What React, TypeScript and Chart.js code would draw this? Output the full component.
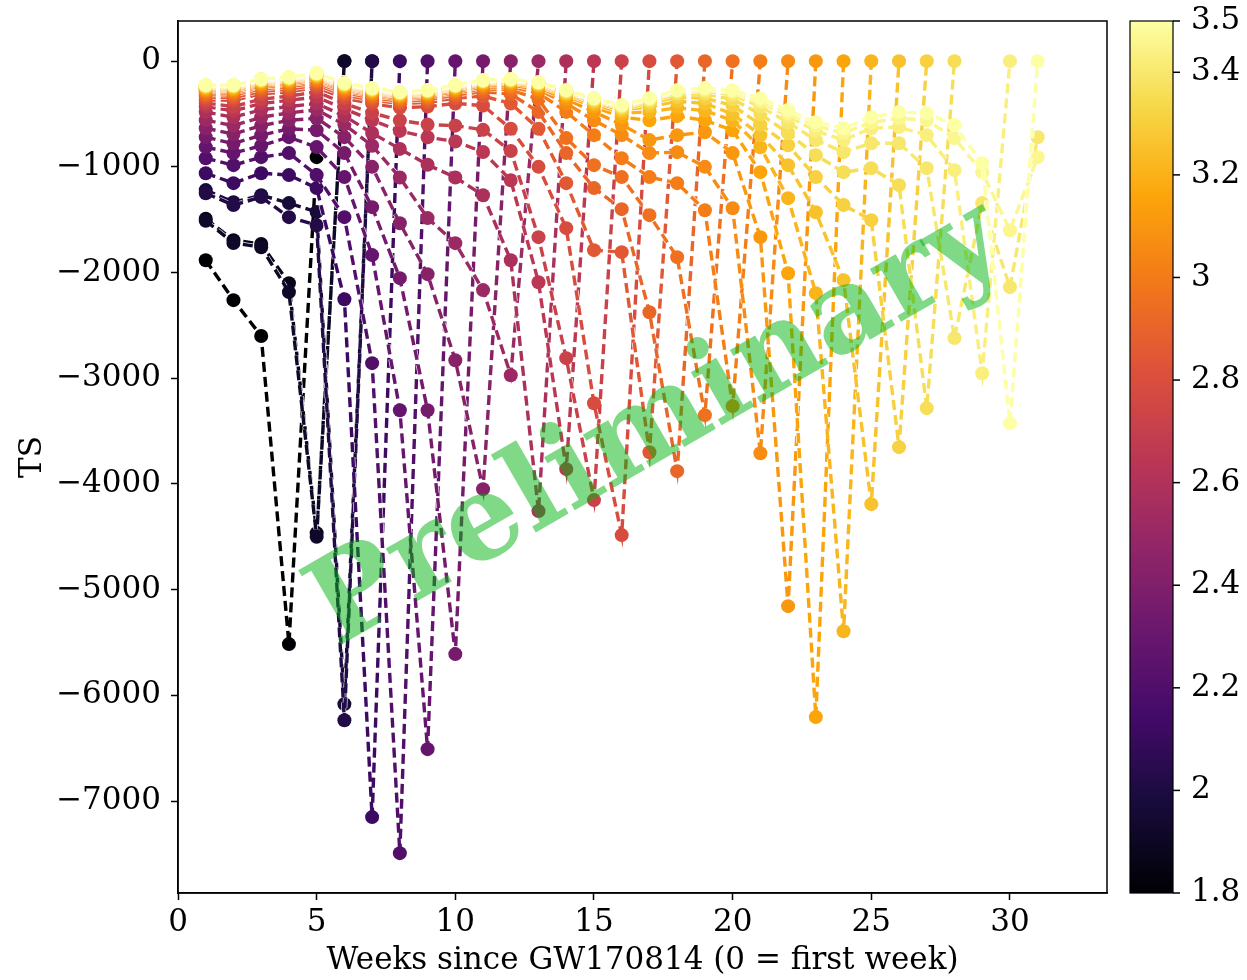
import React, { useEffect, useRef } from "react";
import { Chart, registerables } from "chart.js";

Chart.register(...registerables);

// ---------------- data ----------------
const weeks = [1, 2, 3, 4, 5, 6, 7, 8, 9, 10, 11, 12, 13, 14, 15, 16, 17, 18, 19, 20, 21, 22, 23, 24, 25, 26, 27, 28, 29, 30, 31];
const xTicks = [0, 5, 10, 15, 20, 25, 30];
const yTicks = [-7000, -6000, -5000, -4000, -3000, -2000, -1000, 0];
const cbTicks = [1.8, 2, 2.2, 2.4, 2.6, 2.8, 3, 3.2, 3.4, 3.5];

const ts05 = [-1883, -2261, -2600, -5515, -908];
const ts06a = [-1490, -1694, -1730, -2100, -4465, 0];
const ts06b = [-1510, -1720, -1760, -2185, -4500, 0];
const ts07a = [-1220, -1334, -1268, -1343, -1426, -6083, 0];
const ts07b = [-1250, -1362, -1286, -1476, -1552, -6235, 0];
const ts08 = [-1060, -1154, -1060, -1078, -1201, -2252, -7152, 0];
const ts09 = [-918, -984, -908, -870, -1078, -1476, -2857, -7493, 0];
const ts10 = [-813, -870, -800, -719, -813, -1097, -1835, -3302, -6509, 0];
const ts11 = [-719, -780, -700, -640, -653, -870, -1381, -2053, -3302, -5610, 0];
const ts12 = [-634, -690, -610, -560, -540, -719, -1000, -1533, -2015, -2829, -4049, 0];
const ts13 = [-558, -610, -530, -490, -460, -600, -800, -1100, -1485, -1722, -2166, -2971, 0];
const ts14 = [-482, -530, -460, -430, -400, -520, -680, -830, -980, -1100, -1268, -1883, -4257, 0];
const ts15 = [-430, -470, -400, -370, -340, -450, -560, -660, -720, -760, -860, -1126, -2091, -3860, 0];
const ts16 = [-395, -430, -360, -330, -290, -400, -490, -560, -600, -610, -650, -850, -1665, -2810, -4153, 0];
const ts17 = [-365, -370, -310, -290, -250, -350, -400, -440, -430, -400, -420, -640, -1000, -1580, -3236, -4484, 0];
const ts18 = [-340, -345, -285, -265, -225, -320, -370, -400, -390, -350, -330, -400, -640, -1154, -1788, -1807, -3700, 0];
const ts19 = [-318, -320, -262, -242, -205, -300, -345, -380, -365, -320, -290, -310, -480, -870, -1201, -1400, -2375, -3879, 0];
const ts20 = [-300, -302, -245, -226, -188, -282, -328, -362, -345, -300, -262, -270, -360, -728, -984, -1097, -1457, -1854, -3349, 0];
const ts21 = [-288, -290, -232, -213, -176, -270, -316, -350, -332, -287, -245, -245, -300, -480, -700, -918, -1097, -1154, -1410, -3264, 0];
const ts22 = [-275, -277, -220, -200, -163, -258, -303, -338, -320, -274, -230, -225, -270, -400, -560, -700, -870, -861, -1000, -1391, -3709, 0];
const ts23 = [-265, -266, -210, -190, -153, -248, -294, -330, -310, -264, -218, -210, -250, -360, -480, -600, -747, -700, -672, -870, -1665, -5156, 0];
const ts24 = [-257, -258, -201, -182, -145, -240, -286, -322, -302, -256, -209, -200, -236, -330, -430, -530, -560, -520, -560, -653, -1050, -2006, -6206, 0];
const ts25 = [-250, -251, -194, -175, -138, -233, -279, -315, -296, -249, -202, -192, -226, -315, -405, -490, -480, -440, -470, -560, -814, -1296, -2195, -5393, 0];
const ts26 = [-244, -244, -188, -169, -132, -227, -273, -309, -290, -243, -196, -186, -218, -303, -388, -465, -430, -380, -400, -500, -700, -984, -1429, -2072, -4191, 0];
const ts27 = [-238, -238, -182, -163, -126, -221, -268, -304, -285, -238, -191, -181, -212, -294, -375, -448, -400, -340, -350, -420, -600, -795, -1097, -1362, -1504, -3652, 0];
const ts28 = [-234, -234, -178, -159, -122, -217, -264, -300, -281, -234, -187, -177, -207, -287, -366, -436, -380, -310, -310, -360, -500, -680, -889, -1050, -1012, -1173, -3283, 0];
const ts29 = [-231, -231, -175, -156, -118, -213, -260, -297, -278, -231, -184, -174, -203, -281, -358, -426, -366, -292, -285, -320, -430, -580, -747, -861, -776, -776, -1012, -2620, -1343, -2138, -720];
const ts30 = [-229, -229, -172, -153, -116, -211, -258, -295, -276, -229, -182, -172, -201, -277, -354, -421, -358, -283, -270, -297, -390, -520, -660, -747, -634, -624, -700, -1031, -2952, 0];
const ts31b = [-228, -228, -171, -152, -114, -209, -256, -294, -275, -228, -181, -171, -200, -275, -352, -418, -354, -278, -262, -285, -370, -490, -610, -680, -580, -540, -560, -728, -1050, -1600, -908];
const ts31 = [-227, -227, -170, -151, -113, -208, -255, -293, -274, -227, -180, -170, -199, -274, -350, -416, -350, -274, -255, -274, -350, -463, -577, -634, -530, -482, -492, -605, -965, -3425, 0];

const seriesList = [ts05, ts06a, ts06b, ts07a, ts07b, ts08, ts09, ts10, ts11, ts12, ts13, ts14, ts15, ts16, ts17, ts18, ts19, ts20, ts21, ts22, ts23, ts24, ts25, ts26, ts27, ts28, ts29, ts30, ts31b, ts31];
const seriesColorValues = [1.80, 1.87, 1.92, 1.97, 2.02, 2.12, 2.21, 2.29, 2.36, 2.43, 2.51, 2.58, 2.65, 2.72, 2.79, 2.85, 2.91, 2.96, 3.01, 3.06, 3.11, 3.16, 3.21, 3.26, 3.31, 3.36, 3.40, 3.43, 3.46, 3.50];

const CB_MIN = 1.8;
const CB_MAX = 3.5;

// ---------------- colormap ----------------
const infernoStops: [number, number, number][] = [
  [0, 0, 4], [22, 11, 57], [66, 10, 104], [106, 23, 110], [147, 38, 103],
  [188, 55, 84], [221, 81, 58], [243, 120, 25], [252, 165, 10], [246, 215, 70], [252, 255, 164],
];
function inferno(t: number): string {
  const tt = Math.max(0, Math.min(1, t)) * (infernoStops.length - 1);
  const i = Math.min(infernoStops.length - 2, Math.floor(tt));
  const f = tt - i;
  const a = infernoStops[i], b = infernoStops[i + 1];
  const c = [0, 1, 2].map((k) => Math.round(a[k] + (b[k] - a[k]) * f));
  return `rgb(${c[0]},${c[1]},${c[2]})`;
}

const FONT = "'DejaVu Serif', 'Liberation Serif', serif";
const FS = 31;
const LINE_W = 3.4;
const DASH = [10, 5];

function zeroPad(s: any) {
  s.paddingTop = 0;
  s.paddingBottom = 0;
  s.paddingLeft = 0;
  s.paddingRight = 0;
}

export default function App() {
  const ref = useRef<HTMLCanvasElement>(null);

  useEffect(() => {
    const canvas = ref.current;
    if (!canvas) return;

    const datasets = seriesList.map((vals, i) => {
      const col = inferno((seriesColorValues[i] - CB_MIN) / (CB_MAX - CB_MIN));
      return {
        label: "c=" + seriesColorValues[i],
        data: vals.map((v, j) => ({ x: weeks[j], y: v })),
        borderColor: col,
        backgroundColor: col,
        pointBackgroundColor: col,
        pointBorderColor: col,
        borderWidth: LINE_W,
        borderDash: DASH,
        pointRadius: 7,
        pointHoverRadius: 7,
        pointBorderWidth: 0,
        tension: 0,
        fill: false,
        order: seriesList.length - i,
      };
    });

    const decorPlugin = {
      id: "decor",
      beforeDatasetDraw(chart: any, args: any) {
        // thin white halo under each dashed line
        const { ctx, chartArea } = chart;
        const pts = args.meta.data;
        if (!pts || pts.length < 2) return;
        ctx.save();
        ctx.beginPath();
        ctx.rect(chartArea.left, chartArea.top, chartArea.right - chartArea.left, chartArea.bottom - chartArea.top);
        ctx.clip();
        ctx.strokeStyle = "rgba(255,255,255,0.9)";
        ctx.lineWidth = LINE_W + 1.4;
        ctx.setLineDash(DASH);
        ctx.beginPath();
        pts.forEach((p: any, k: number) => {
          if (k === 0) ctx.moveTo(p.x, p.y);
          else ctx.lineTo(p.x, p.y);
        });
        ctx.stroke();
        ctx.restore();
      },
      afterDatasetsDraw(chart: any) {
        const { ctx, chartArea } = chart;
        ctx.save();
        const cx = chartArea.left + 0.517 * (chartArea.right - chartArea.left);
        const cy = chartArea.top + 0.465 * (chartArea.bottom - chartArea.top);
        ctx.translate(cx, cy);
        ctx.rotate((-30 * Math.PI) / 180);
        ctx.font = `bold 118px ${FONT}`;
        ctx.fillStyle = "rgba(0,180,15,0.5)";
        ctx.textAlign = "center";
        ctx.textBaseline = "middle";
        ctx.fillText("Preliminary", 0, 0);
        ctx.restore();
      },
      afterDraw(chart: any) {
        const { ctx, chartArea } = chart;
        ctx.save();
        ctx.strokeStyle = "#000";
        ctx.lineWidth = 1.5;
        ctx.strokeRect(chartArea.left, chartArea.top, chartArea.right - chartArea.left, chartArea.bottom - chartArea.top);
        const cb = chart.scales.cb;
        const yTop = cb.getPixelForValue(CB_MAX);
        const yBot = cb.getPixelForValue(CB_MIN);
        const x0 = chartArea.right + 23;
        const x1 = chartArea.right + 66;
        const grad = ctx.createLinearGradient(0, yBot, 0, yTop);
        for (let k = 0; k <= 40; k++) {
          grad.addColorStop(k / 40, inferno(k / 40));
        }
        ctx.fillStyle = grad;
        ctx.fillRect(x0, yTop, x1 - x0, yBot - yTop);
        ctx.strokeStyle = "#000";
        ctx.lineWidth = 1.2;
        ctx.strokeRect(x0, yTop, x1 - x0, yBot - yTop);
        ctx.lineWidth = 1.5;
        cbTicks.forEach((v) => {
          const y = cb.getPixelForValue(v);
          ctx.beginPath();
          ctx.moveTo(x1, y);
          ctx.lineTo(x1 + 7, y);
          ctx.stroke();
        });
        ctx.restore();
      },
    };

    const fmtNum = (v: number) => (v < 0 ? "\u2212" + String(Math.abs(v)) : String(v));

    const chart = new Chart(canvas, {
      type: "line",
      data: { datasets: datasets as any },
      options: {
        responsive: false,
        animation: false,
        devicePixelRatio: 1,
        events: [],
        layout: { padding: { top: 21, left: 0, right: 0, bottom: 0 } },
        plugins: { legend: { display: false }, tooltip: { enabled: false } },
        scales: {
          x: {
            type: "linear",
            position: "bottom",
            min: 0,
            max: 33.5,
            afterBuildTicks: (s: any) => {
              s.ticks = xTicks.map((v) => ({ value: v }));
            },
            afterFit: (s: any) => {
              s.height = 87;
              zeroPad(s);
            },
            grid: { drawOnChartArea: false, drawTicks: true, tickLength: 7, color: "#000", tickWidth: 1.5 },
            border: { display: true, color: "#000", width: 1.5 },
            ticks: {
              font: { family: FONT, size: FS },
              color: "#000",
              padding: 4,
              maxRotation: 0,
              autoSkip: false,
              callback: (v: any) => fmtNum(Number(v)),
            },
            title: {
              display: true,
              text: "Weeks since GW170814 (0 = first week)",
              font: { family: FONT, size: FS },
              color: "#000",
              padding: { top: 0, bottom: 0 },
            },
          },
          y: {
            type: "linear",
            position: "left",
            min: -7870,
            max: 380,
            afterBuildTicks: (s: any) => {
              s.ticks = yTicks.map((v) => ({ value: v }));
            },
            afterFit: (s: any) => {
              s.width = 178;
              zeroPad(s);
            },
            grid: { drawOnChartArea: false, drawTicks: true, tickLength: 7, color: "#000", tickWidth: 1.5 },
            border: { display: true, color: "#000", width: 1.5 },
            ticks: {
              font: { family: FONT, size: FS },
              color: "#000",
              padding: 10,
              autoSkip: false,
              callback: (v: any) => fmtNum(Number(v)),
            },
            title: {
              display: true,
              text: "TS",
              font: { family: FONT, size: FS },
              color: "#000",
              padding: { top: 14, bottom: 0 },
            },
          },
          cb: {
            type: "linear",
            position: "right",
            min: CB_MIN,
            max: CB_MAX,
            afterBuildTicks: (s: any) => {
              s.ticks = cbTicks.map((v) => ({ value: v }));
            },
            afterFit: (s: any) => {
              s.width = 140;
              zeroPad(s);
            },
            grid: { display: false, drawTicks: false, drawOnChartArea: false },
            border: { display: false },
            ticks: {
              font: { family: FONT, size: FS },
              color: "#000",
              padding: 84,
              autoSkip: false,
              callback: (v: any) => String(Math.round(Number(v) * 10) / 10),
            },
          },
        } as any,
      },
      plugins: [decorPlugin],
    });

    return () => {
      chart.destroy();
    };
  }, []);

  return (
    <div style={{ position: "fixed", left: 0, top: 0, width: 1247, height: 980, background: "#fff" }}>
      <canvas ref={ref} width={1247} height={980} style={{ width: 1247, height: 980, display: "block" }} />
    </div>
  );
}
